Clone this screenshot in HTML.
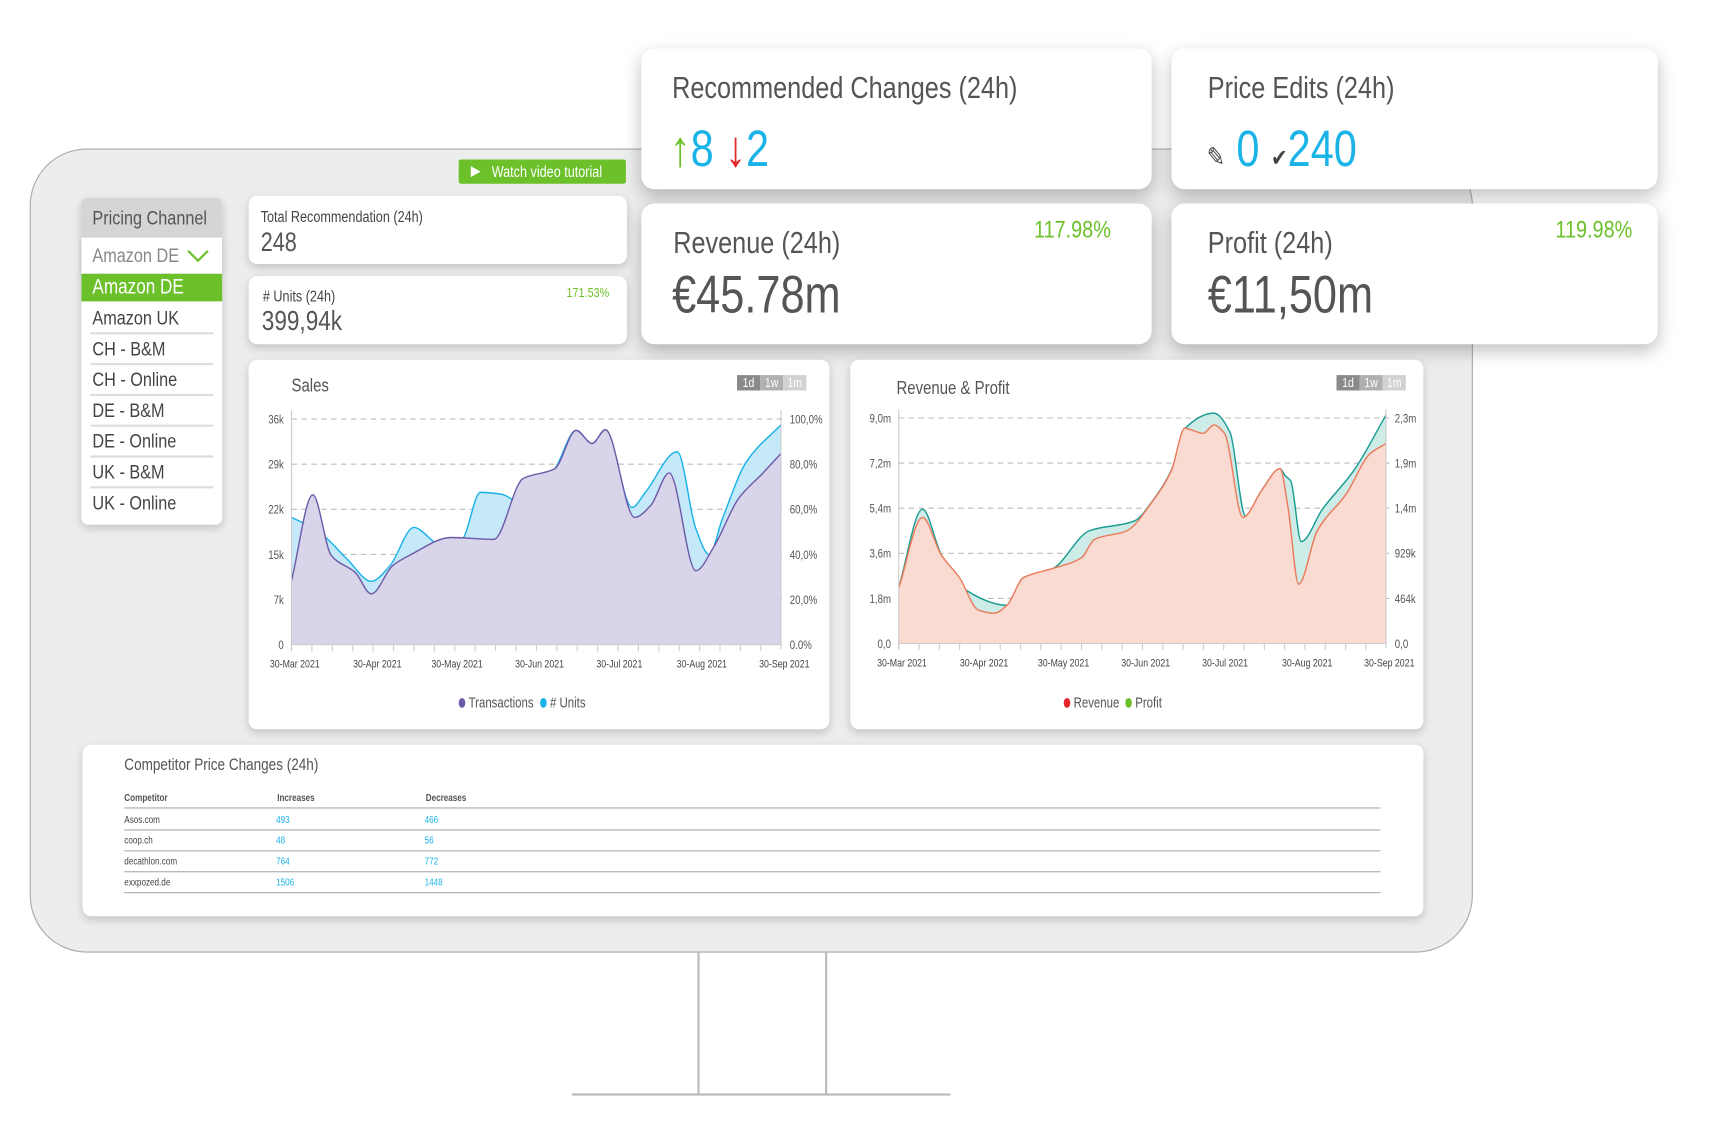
<!DOCTYPE html>
<html><head><meta charset="utf-8">
<style>
html,body{margin:0;padding:0;background:#fff;width:1724px;height:1127px;overflow:hidden}
#root{position:absolute;left:0;top:0;width:1560px;height:1020px;transform:scale(1.1);transform-origin:0 0;font-family:"Liberation Sans Narrow","Liberation Sans",sans-serif;color:#555}
.abs{position:absolute}
.card{position:absolute;background:#fff;border-radius:8px;box-shadow:0 3px 8px rgba(0,0,0,.18)}
.big{box-shadow:0 6px 16px rgba(0,0,0,.25);border-radius:12px}
.t{position:absolute;white-space:nowrap;transform:scaleX(.82);transform-origin:0 0}
.n{display:inline-block;transform:scaleX(.82);transform-origin:0 0;white-space:nowrap}
.pc-item{position:absolute;left:8px;width:112px;height:26px;border-bottom:2px solid #ddd;font-size:18px;color:#444;line-height:27px}
</style></head><body>
<div id="root">
 <div class="abs" style="left:27px;top:135px;width:1310px;height:729px;border:1px solid #a9a9a9;border-radius:52px;background:#eceeed"></div>
 <div class="abs" style="left:634px;top:866px;width:114px;height:129px;border-left:2px solid #bbb;border-right:2px solid #bbb"></div>
 <div class="abs" style="left:520px;top:994px;width:344px;height:2px;background:#bbb"></div>

 <div class="abs" style="left:417px;top:145px;width:152px;height:22px;background:#6cc12a;color:#fff;font-size:14px;line-height:22px;border-radius:2px">
  <span style="position:absolute;left:11px;top:6px;width:0;height:0;border-left:9px solid #fff;border-top:5px solid transparent;border-bottom:5px solid transparent"></span>
  <span class="n" style="position:absolute;left:30px">Watch video tutorial</span></div>

 <div class="card" style="left:74px;top:180px;width:128px;height:297px;border-radius:6px">
  <div class="abs" style="left:0;top:0;width:128px;height:36px;background:#d4d5d6;border-radius:6px 6px 0 0;font-size:18px;line-height:36px;color:#555"><span class="n" style="margin-left:10px">Pricing Channel</span></div>
  <div class="abs" style="left:0;top:37px;width:128px;height:31px;font-size:18px;line-height:31px;color:#888;box-shadow:0 2px 4px rgba(0,0,0,.15)"><span class="n" style="margin-left:10px">Amazon DE</span>
   <svg style="position:absolute;left:96px;top:10px" width="20" height="12"><polyline points="1,1 10,10 19,1" fill="none" stroke="#6cc12a" stroke-width="2"/></svg></div>
  <div class="abs" style="left:0;top:69px;width:128px;height:25px;background:#6cc12a;color:#fff;font-size:19px;line-height:25px"><span class="n" style="margin-left:10px">Amazon DE</span></div>
  <div class="pc-item" style="top:96px"><span class="n" style="margin-left:2px">Amazon UK</span></div>
  <div class="pc-item" style="top:124px"><span class="n" style="margin-left:2px">CH - B&amp;M</span></div>
  <div class="pc-item" style="top:152px"><span class="n" style="margin-left:2px">CH - Online</span></div>
  <div class="pc-item" style="top:180px"><span class="n" style="margin-left:2px">DE - B&amp;M</span></div>
  <div class="pc-item" style="top:208px"><span class="n" style="margin-left:2px">DE - Online</span></div>
  <div class="pc-item" style="top:236px"><span class="n" style="margin-left:2px">UK - B&amp;M</span></div>
  <div class="pc-item" style="top:264px;border-bottom:none"><span class="n" style="margin-left:2px">UK - Online</span></div>
 </div>

 <div class="card" style="left:226px;top:178px;width:344px;height:62px">
  <div class="t" style="left:11px;top:11px;font-size:14px;color:#444">Total Recommendation (24h)</div>
  <div class="t" style="left:11px;top:29px;font-size:24px;color:#555">248</div></div>
 <div class="card" style="left:226px;top:251px;width:344px;height:62px">
  <div class="t" style="left:13px;top:10px;font-size:14px;color:#444"># Units (24h)</div>
  <div class="t" style="left:289px;top:8px;font-size:12px;color:#6cc12a">171.53%</div>
  <div class="t" style="left:12px;top:27px;font-size:25px;color:#555">399,94k</div></div>

 <div class="card big" style="left:583px;top:44px;width:464px;height:128px">
  <div class="t" style="left:28px;top:20px;font-size:28px;color:#555">Recommended Changes (24h)</div>
  <div class="t" style="left:26px;top:64px;font-size:46px;color:#1ab3e8"><span style="color:#6cc12a;font-weight:lighter">↑</span>8 <span style="color:#e2262b">↓</span>2</div></div>
 <div class="card big" style="left:1065px;top:44px;width:442px;height:128px">
  <div class="t" style="left:33px;top:20px;font-size:28px;color:#555">Price Edits (24h)</div>
  <div class="t" style="left:32px;top:64px;font-size:46px;color:#1ab3e8"><span style="color:#444;font-size:24px">✎</span> 0 <span style="color:#444;font-size:22px">✔</span>240</div></div>
 <div class="card big" style="left:583px;top:185px;width:464px;height:128px">
  <div class="t" style="left:29px;top:20px;font-size:28px;color:#555">Revenue (24h)</div>
  <div class="t" style="left:357px;top:11px;font-size:22px;color:#6cc12a">117.98%</div>
  <div class="t" style="left:28px;top:56px;font-size:48px;color:#555">€45.78m</div></div>
 <div class="card big" style="left:1065px;top:185px;width:442px;height:128px">
  <div class="t" style="left:33px;top:20px;font-size:28px;color:#555">Profit (24h)</div>
  <div class="t" style="left:349px;top:11px;font-size:22px;color:#6cc12a">119.98%</div>
  <div class="t" style="left:33px;top:56px;font-size:48px;color:#555">€11,50m</div></div>

 <div class="card" style="left:226px;top:327px;width:528px;height:336px"></div>
 <div class="card" style="left:773px;top:327px;width:521px;height:336px"></div>

 <div class="card" style="left:75px;top:677px;width:1219px;height:156px">
  <div class="t" style="left:38px;top:10px;font-size:15px;color:#555">Competitor Price Changes (24h)</div>
  <div class="t" style="left:38px;top:43px;font-size:9px;font-weight:bold;color:#555">Competitor</div>
  <div class="t" style="left:177px;top:43px;font-size:9px;font-weight:bold;color:#555">Increases</div>
  <div class="t" style="left:312px;top:43px;font-size:9px;font-weight:bold;color:#555">Decreases</div>
  <div class="abs" style="left:38px;top:57px;width:1142px;height:1px;background:#aaa"></div>
  <div id="rows"></div>
 </div>

 <svg id="charts" class="abs" style="left:0;top:0" width="1560" height="1020"></svg>
</div>
<script>
// competitor table data
const compNames=['Asos.com','coop.ch','decathlon.com','exxpozed.de'];
const compInc=[493,48,764,1506];
const compDec=[466,56,772,1448];
// Sales chart data (day offset from 30-Mar-2021, values in thousands)
const salesTxDays=[0,8,15,24,30,38,45,60,76,87,99,107,113,118,129,135,142,152,159,168,177,184];
const salesTxVals=[10.2,23.9,14.2,11.5,8.1,12.6,14.4,17.1,16.8,26.5,28.1,34.2,32.1,34.3,20.3,22.2,27.4,11.8,15.8,23.3,27.3,30.5];
const salesUnitDays=[0,5,12,21,30,37,46,56,64,71,79,86,99,107,113,118,128,133,145,152,157,162,171,184];
const salesUnitVals=[20.3,19.3,17.4,13.6,10.1,12.6,18.7,16.0,16.8,24.3,24.0,22.7,28.1,34.2,32.1,34.3,21.9,24.3,30.8,18.5,14.4,20.1,29.2,35.1];
const salesLeftTicks=['0','7k','15k','22k','29k','36k'];
const salesRightTicks=['0.0%','20,0%','40,0%','60,0%','80,0%','100,0%'];
// Revenue (millions) & Profit (millions, right axis)
const revDays=[0,9,16,23,30,36,41,47,58,69,74,86,96,103,108,115,119,123,130,137,144,147,151,158,169,178,184];
const revVals=[2.21,5.03,3.55,2.62,1.34,1.21,1.54,2.62,2.99,3.42,4.16,4.49,5.70,6.91,8.59,8.39,8.72,8.39,5.03,6.10,6.98,5.43,2.37,4.49,5.97,7.58,7.98];
const profDays=[0,9,16,24,41,47,58,72,89,96,103,108,119,125,131,137,144,146,148,152,160,172,184];
const profVals=[0.57,1.37,0.91,0.57,0.39,0.67,0.76,1.15,1.25,1.46,1.77,2.19,2.35,2.16,1.30,1.56,1.78,1.71,1.66,1.04,1.37,1.77,2.33];
const revLeftTicks=['0,0','1,8m','3,6m','5,4m','7,2m','9,0m'];
const revRightTicks=['0,0','464k','929k','1,4m','1,9m','2,3m'];
const xTickDays=[0,31,61,92,122,153,184];
const xTickLabels=['30-Mar 2021','30-Apr 2021','30-May 2021','30-Jun 2021','30-Jul 2021','30-Aug 2021','30-Sep 2021'];

const NS='http://www.w3.org/2000/svg';
const svg=document.getElementById('charts');
function mk(tag,attrs,parent){const e=document.createElementNS(NS,tag);for(const k in attrs)e.setAttribute(k,attrs[k]);(parent||svg).appendChild(e);return e;}
function txt(x,y,s,size,fill,anchor,parent){const e=mk('text',{x:0,y:0,transform:'translate('+x+','+y+') scale(0.8,1)','font-size':size,fill:fill,'text-anchor':anchor||'start','font-family':'"Liberation Sans Narrow","Liberation Sans",sans-serif'},parent);e.textContent=s;return e;}

// table rows
const rows=document.getElementById('rows');
compNames.forEach((n,i)=>{
  const top=60+i*19;
  const r=document.createElement('div');
  
  
  r.style.cssText='position:absolute;left:38px;top:'+top+'px;width:1142px;height:17px;border-bottom:1px solid #aaa;font-size:9px';
  r.innerHTML='<span class="n" style="position:absolute;left:0;top:3px;color:#444">'+n+'</span><span class="n" style="position:absolute;left:138px;top:3px;color:#1ab3e8">'+compInc[i]+'</span><span class="n" style="position:absolute;left:273px;top:3px;color:#1ab3e8">'+compDec[i]+'</span>';
  rows.appendChild(r);
});

function monoPath(xs,ys){
  const n=xs.length,d=[],m=[];
  for(let i=0;i<n-1;i++)d.push((ys[i+1]-ys[i])/(xs[i+1]-xs[i]));
  m[0]=d[0];m[n-1]=d[n-2];
  for(let i=1;i<n-1;i++){if(d[i-1]*d[i]<=0)m[i]=0;else{const h0=xs[i]-xs[i-1],h1=xs[i+1]-xs[i];m[i]=3*(h0+h1)/((2*h1+h0)/d[i-1]+(h1+2*h0)/d[i]);}}
  let p='M'+xs[0]+','+ys[0];
  for(let i=0;i<n-1;i++){const h=(xs[i+1]-xs[i])/3;p+=' C'+(xs[i]+h)+','+(ys[i]+m[i]*h)+' '+(xs[i+1]-h)+','+(ys[i+1]-m[i+1]*h)+' '+xs[i+1]+','+ys[i+1];}
  return p;
}

function chart(o){
  const g=mk('g',{});
  
  
  const X=d=>o.x0+d/184*(o.x1-o.x0);
  const t=txt(o.titleX,o.titleY,o.title,17,'#555','start',g);
  
  ['1d','1w','1m'].forEach((s,i)=>{
    const b=mk('rect',{x:o.btnX+i*21,y:o.btnY,width:21,height:14,fill:['#8a8a8a','#b0b0b0','#d2d2d2'][i]},g);
    
    
    txt(o.btnX+i*21+10.5,o.btnY+11,s,12,'#fff','middle',g);
  });
  for(let i=0;i<o.leftTicks.length;i++){
    const y=o.y0-(o.y0-o.y1)*i/(o.leftTicks.length-1);
    if(i>0){const gl=mk('line',{x1:o.x0,x2:o.x1+5,y1:y,y2:y,stroke:'#bbb','stroke-dasharray':'5,4','stroke-width':1},g);
      }
    const l=txt(o.x0-7,y+4,o.leftTicks[i],11,'#555','end',g);
    
    const r=txt(o.x1+8,y+4,o.rightTicks[i],11,'#555','start',g);
    
  }
  o.series.forEach(s=>{
    const xs=s.days.map(X), ys=s.vals.map(v=>o.y0-v/s.max*(o.y0-o.y1));
    const p=monoPath(xs,ys);
    const a=mk('path',{d:p+' L'+xs[xs.length-1]+','+o.y0+' L'+xs[0]+','+o.y0+' Z',fill:s.fill},g);
    
    const l=mk('path',{d:p,fill:'none',stroke:s.stroke,'stroke-width':1.3},g);
    
  });
  mk('line',{x1:o.x0,x2:o.x0,y1:o.y1-8,y2:o.y0+4,stroke:'#ccc'},g);
  mk('line',{x1:o.x1,x2:o.x1,y1:o.y1-8,y2:o.y0+4,stroke:'#ccc'},g);
  mk('line',{x1:o.x0,x2:o.x1,y1:o.y0,y2:o.y0,stroke:'#ccc'},g);
  for(let d=0;d<=184;d+=7.67){mk('line',{x1:X(d),x2:X(d),y1:o.y0,y2:o.y0+6,stroke:'#ccc'},g);}
  xTickDays.forEach((d,i)=>{
    const l=txt(X(d)+3,o.y0+21,xTickLabels[i],10,'#444','middle',g);
    
  });
  let lx=o.legendX;
  o.series.slice().reverse().forEach(s=>{
    const c=mk('ellipse',{cx:lx,cy:o.legendY-4,rx:3,ry:4.5,fill:s.legendColor},g);
    
    const l=txt(lx+6,o.legendY,s.label,13,'#555','start',g);
    
    
    lx+=s.legendW;
  });
}

chart({name:'sales-chart',title:'Sales',titleX:265,titleY:356,btnX:670,btnY:341,x0:265,x1:710,y0:586,y1:381,
  leftTicks:salesLeftTicks,rightTicks:salesRightTicks,legendX:420,legendY:643,
  series:[
   {name:'units',label:'# Units',days:salesUnitDays,vals:salesUnitVals,max:36,fill:'#c5e9f9',stroke:'#1ab3e8',legendColor:'#1ab3e8',legendW:74},
   {name:'transactions',label:'Transactions',days:salesTxDays,vals:salesTxVals,max:36,fill:'#d8d4ea',stroke:'#6e5ba8',legendColor:'#6e5ba8',legendW:74}
  ]});
chart({name:'revenue-profit-chart',title:'Revenue & Profit',titleX:815,titleY:358,btnX:1215,btnY:341,x0:817,x1:1260,y0:585,y1:380,
  leftTicks:revLeftTicks,rightTicks:revRightTicks,legendX:970,legendY:643,
  series:[
   {name:'profit',label:'Profit',days:profDays,vals:profVals,max:2.3,fill:'#cdebe7',stroke:'#1a9c93',legendColor:'#6cc12a',legendW:56},
   {name:'revenue',label:'Revenue',days:revDays,vals:revVals,max:9,fill:'#fadbd1',stroke:'#ec7a5c',legendColor:'#e2262b',legendW:56}
  ]});
</script>
</body></html>
